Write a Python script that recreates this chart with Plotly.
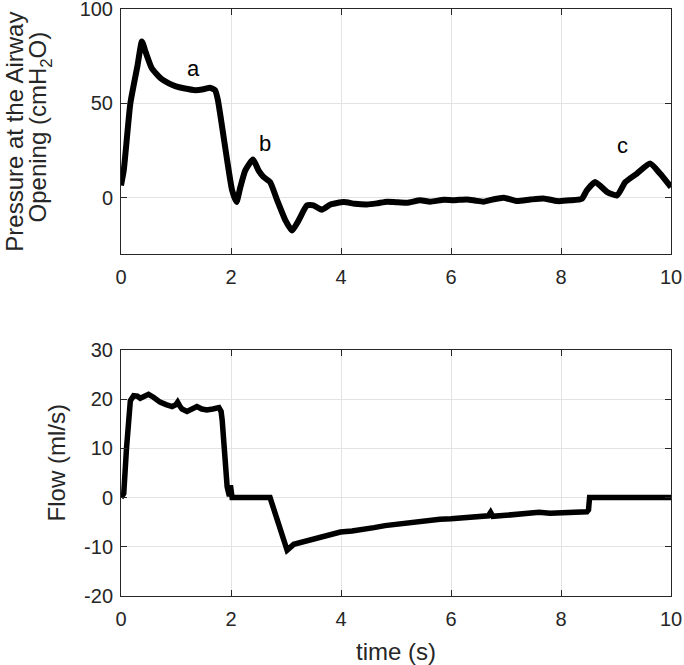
import plotly.graph_objects as go

# ---- data ----
t_pressure = [0, 0.05, 0.17, 0.30, 0.38, 0.45, 0.56, 0.72, 0.87, 1.0, 1.14, 1.35, 1.5, 1.62, 1.71,
              1.76, 1.81, 1.93, 2.02, 2.10, 2.17, 2.26, 2.40, 2.5, 2.59, 2.71, 2.84, 2.99, 3.11,
              3.23, 3.38, 3.5, 3.65, 3.81, 4.05, 4.25, 4.47, 4.65, 4.84, 5.0, 5.2, 5.44, 5.62,
              5.87, 6.05, 6.29, 6.45, 6.59, 6.75, 6.96, 7.2, 7.44, 7.68, 7.93, 8.17, 8.38, 8.47,
              8.62, 8.84, 9.02, 9.17, 9.38, 9.62, 9.8, 10]
pressure = [6.5, 14.5, 50, 70, 82.8, 77, 68.6, 63.3, 60.6, 59, 58, 57, 57.5, 58.3, 57,
            52, 43, 19.8, 3.9, -2.3, 5.6, 14.5, 20.2, 14.5, 11, 8.3, -1.4, -12, -17.4,
            -12, -4.1, -4.1, -6.4, -3.6, -2.3, -3.2, -3.6, -3.0, -2.1, -2.4, -2.7, -1.4, -2.1,
            -1.1, -1.3, -0.9, -1.6, -2.1, -1.0, 0, -1.8, -1.0, -0.4, -1.8, -1.4, -0.5, 3.9,
            8.3, 3.0, 1.2, 8.3, 12.8, 18.1, 12.8, 5.6]

t_flow = [0, 0.05, 0.10, 0.17, 0.23, 0.30, 0.35, 0.42, 0.5, 0.59, 0.71, 0.82, 0.93, 1.0, 1.03,
          1.07, 1.11, 1.2, 1.3, 1.38, 1.47, 1.56, 1.67, 1.78, 1.82, 1.84, 1.93, 1.97, 1.99,
          2.0, 2.02, 2.71, 3.02, 3.14, 3.32, 3.5, 3.62, 3.8, 3.99, 4.2, 4.41, 4.6, 4.8, 5.02,
          5.2, 5.4, 5.62, 5.8, 6.0, 6.23, 6.45, 6.68, 6.72, 6.76, 7.0, 7.2, 7.44, 7.6, 7.8,
          8.05, 8.25, 8.47, 8.50, 8.52, 10]
flow = [0, 0.8, 10, 19.7, 20.7, 20.6, 20.2, 20.5, 21, 20.4, 19.4, 18.9, 18.5, 18.9, 19.4,
        18.6, 18, 17.5, 18.2, 18.5, 18.0, 17.8, 18.0, 18.3, 17.5, 15.7, 2.2, 0.3, 2.5,
        0, 0, 0, -10.7, -9.5, -9.0, -8.5, -8.0, -7.6, -7.0, -6.8, -6.3, -6.1, -5.7, -5.4,
        -5.1, -4.9, -4.6, -4.4, -4.3, -4.1, -3.8, -3.7, -3.0, -3.8, -3.6, -3.4, -3.1, -3.0, -3.2,
        -3.1, -2.9, -2.9, -2.5, 0, 0]

label_text = ["a", "b", "c"]
label_t = [1.32, 2.61, 9.12]
label_p = [68.6, 28.7, 27.8]

x_ticks = [0, 2, 4, 6, 8, 10]
x_tick_text = ["0", "2", "4", "6", "8", "10"]
p_ticks = [0, 50, 100]
p_tick_text = ["0", "50", "100"]
f_ticks = [-20, -10, 0, 10, 20, 30]
f_tick_text = ["-20", "-10", "0", "10", "20", "30"]

# ---- figure ----
FONT = "Arial, Liberation Sans, Helvetica, sans-serif"
AX = "#262626"
GRID = "#e3e3e3"

fig = go.Figure()
fig.add_trace(go.Scatter(x=t_pressure, y=pressure, mode="lines",
                         line=dict(color="black", width=6, shape="spline", smoothing=0.5),
                         xaxis="x", yaxis="y", showlegend=False))
fig.add_trace(go.Scatter(x=t_flow, y=flow, mode="lines",
                         line=dict(color="black", width=5.5), xaxis="x2", yaxis="y2",
                         showlegend=False))

axis_common = dict(showline=True, linecolor=AX, linewidth=1, mirror="ticks",
                   ticks="inside", ticklen=6, tickcolor=AX, tickwidth=1,
                   showgrid=True, gridcolor=GRID, gridwidth=1, zeroline=False,
                   automargin=False, ticklabeloverflow="allow",
                   tickfont=dict(family=FONT, size=20, color=AX))
x_common = dict(axis_common, ticklabelstandoff=5)
y_common = dict(axis_common, ticklabelstandoff=3)

fig.update_layout(
    width=684, height=665,
    margin=dict(l=121, r=13, t=9, b=69),
    paper_bgcolor="white", plot_bgcolor="white",
    xaxis=dict(domain=[0, 1], anchor="y", range=[0, 10], tickvals=x_ticks,
               ticktext=x_tick_text, **x_common),
    yaxis=dict(domain=[0.5821, 1], anchor="x", range=[-30, 100], tickvals=p_ticks,
               ticktext=p_tick_text, **y_common),
    xaxis2=dict(domain=[0, 1], anchor="y2", range=[0, 10], tickvals=x_ticks,
                ticktext=x_tick_text,
                title=dict(text="time (s)", font=dict(family=FONT, size=24, color=AX), standoff=14),
                **x_common),
    yaxis2=dict(domain=[0, 0.4191], anchor="x2", range=[-20, 30], tickvals=f_ticks,
                ticktext=f_tick_text, **y_common),
)

for txt, tx, py in zip(label_text, label_t, label_p):
    fig.add_annotation(x=tx, y=py, xref="x", yref="y", text=txt, showarrow=False,
                       font=dict(family=FONT, size=22, color="black"))

# two-line y label of the top panel, one annotation per line
fig.add_annotation(x=-0.1927, y=0.791, xref="paper", yref="paper",
                   text="Pressure at the Airway",
                   textangle=-90, showarrow=False, xanchor="center", yanchor="middle",
                   font=dict(family=FONT, size=24, color=AX))
fig.add_annotation(x=-0.1464, y=0.799, xref="paper", yref="paper",
                   text="Opening (cmH<sub>2</sub>O)",
                   textangle=-90, showarrow=False, xanchor="center", yanchor="middle",
                   font=dict(family=FONT, size=24, color=AX))
fig.add_annotation(x=-0.118, y=0.226, xref="paper", yref="paper",
                   text="Flow (ml/s)", textangle=-90, showarrow=False,
                   xanchor="center", yanchor="middle",
                   font=dict(family=FONT, size=24, color=AX))

# the page's default 8px body margin would shift the 684x665 figure; remove it
fig.write_html("out.html", config={"displayModeBar": False},
               post_script="document.body.style.margin='0px';")
